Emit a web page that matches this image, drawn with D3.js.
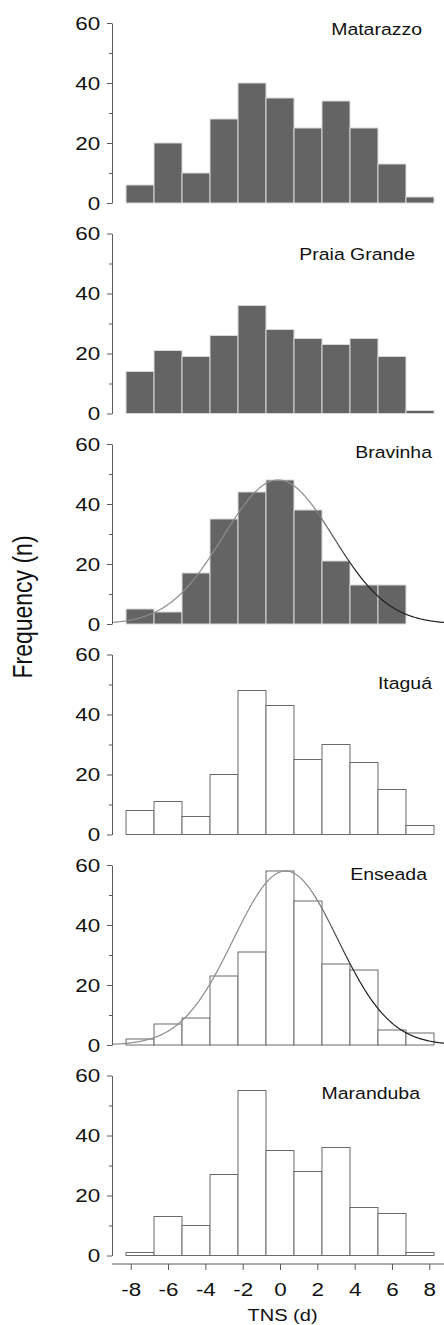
<!DOCTYPE html>
<html>
<head>
<meta charset="utf-8">
<script src="https://cdn.jsdelivr.net/npm/d3@7"></script>
<style>
  body { margin: 0; background: #fff; }
  text { font-family: "Liberation Sans", Arial, Helvetica, sans-serif; fill: #1a1a1a; }
</style>
</head>
<body>
<div id="chart"></div>
<script>
// bin centres (TNS, days), each bin 1.5 d wide
var bins = [-7.5, -6, -4.5, -3, -1.5, 0, 1.5, 3, 4.5, 6, 7.5];
var binWidth = 1.5;

var sites = ["Matarazzo", "Praia Grande", "Bravinha", "Itaguá", "Enseada", "Maranduba"];

var matarazzo   = [6, 20, 10, 28, 40, 35, 25, 34, 25, 13, 2];
var praiaGrande = [14, 21, 19, 26, 36, 28, 25, 23, 25, 19, 1];
var bravinha    = [5, 4, 17, 35, 44, 48, 38, 21, 13, 13, 0];
var itagua      = [8, 11, 6, 20, 48, 43, 25, 30, 24, 15, 3];
var enseada     = [2, 7, 9, 23, 31, 58, 48, 27, 25, 5, 4];
var maranduba   = [1, 13, 10, 27, 55, 35, 28, 36, 16, 14, 1];

var counts = [matarazzo, praiaGrande, bravinha, itagua, enseada, maranduba];

// fitted normal curves (only Bravinha and Enseada have one)
var fitMean = [null, null, -0.1, null, 0.3, null];
var fitSd   = [null, null, 2.95, null, 2.8, null];
var fitPeak = [null, null, 48, null, 58, null];

var yTicks = [0, 20, 40, 60];
var yMinor = [10, 30, 50];
var xTicks = [-8, -6, -4, -2, 0, 2, 4, 6, 8];

// layout
var width = 444, height = 1325;
var axisX = 112;
var panelTop0 = 203, panelStep = 210.5, panelH = 180;
var shaded = [true, true, true, false, false, false];
var titleRight = [422, 415, 432, 432, 427, 420];
var titleDy = [12, 26, 14, 34, 14.5, 23.5];
var stretch = 1.18; // the figure's lettering is a bit wide

var svg = d3.select("#chart").append("svg")
    .attr("width", width)
    .attr("height", height);

var grad = svg.append("defs").append("linearGradient")
    .attr("id", "curveGrad")
    .attr("gradientUnits", "userSpaceOnUse")
    .attr("x1", axisX).attr("x2", width)
    .attr("y1", 0).attr("y2", 0);
grad.append("stop").attr("offset", 0).attr("stop-color", "#8c8c8c");
grad.append("stop").attr("offset", 0.6).attr("stop-color", "#8c8c8c");
grad.append("stop").attr("offset", 0.74).attr("stop-color", "#1e1e1e");
grad.append("stop").attr("offset", 1).attr("stop-color", "#1e1e1e");

var x = d3.scaleLinear()
    .domain([-8, 8])
    .range([130.7, 429.3]);

sites.forEach(function(site, i) {
  var y0 = panelTop0 + panelStep * i;
  var y = d3.scaleLinear()
      .domain([0, 60])
      .range([y0, y0 - panelH]);

  var g = svg.append("g");

  // bars
  g.selectAll("rect")
      .data(counts[i].map(function(c, j) { return {x: bins[j], n: c}; })
                     .filter(function(d) { return d.n > 0; }))
    .enter().append("rect")
      .attr("x", function(d) { return x(d.x - binWidth / 2); })
      .attr("width", function(d) { return x(d.x + binWidth / 2) - x(d.x - binWidth / 2); })
      .attr("y", function(d) { return y(d.n); })
      .attr("height", function(d) { return y(0) - y(d.n); })
      .attr("fill", shaded[i] ? "#646464" : "#fff")
      .attr("stroke", shaded[i] ? "#d8d8d8" : "#6a6a6a")
      .attr("stroke-width", 1);

  // normal fit
  if (fitMean[i] !== null) {
    var m = fitMean[i], s = fitSd[i], p = fitPeak[i];
    var pts = d3.range(x.invert(axisX), x.invert(width) + 0.05, 0.05).map(function(v) {
      return [v, p * Math.exp(-(v - m) * (v - m) / (2 * s * s))];
    });
    g.append("path")
        .datum(pts)
        .attr("fill", "none")
        .attr("stroke", "url(#curveGrad)")
        .attr("stroke-width", 1.2)
        .attr("d", d3.line()
            .x(function(d) { return x(d[0]); })
            .y(function(d) { return y(d[1]); }));
  }

  // y axis
  var ya = g.append("g")
      .attr("transform", "translate(" + axisX + ",0)")
      .call(d3.axisLeft(y).tickValues(yTicks).tickSize(5).tickSizeOuter(0));
  g.append("g")
      .attr("transform", "translate(" + axisX + ",0)")
      .call(d3.axisLeft(y).tickValues(yMinor).tickSize(3).tickSizeOuter(0).tickFormat(""))
      .select(".domain").remove();
  g.selectAll(".domain, .tick line").attr("stroke", "#5a5a5a");
  ya.selectAll("text")
      .attr("x", -10)
      .attr("transform", "scale(" + stretch + ",1)")
      .style("font-size", "19px")
      .style("fill", "#111");

  // site name
  g.append("text")
      .attr("text-anchor", "end")
      .attr("transform", "translate(" + titleRight[i] + "," + (y(60) + titleDy[i]) + ") scale(" + stretch + ",1)")
      .style("font-size", "16.5px")
      .style("fill", "#111")
      .text(site);

  // x axis under the last panel
  if (i === sites.length - 1) {
    var axisY = y0 + 8.5;
    svg.append("line")
        .attr("x1", axisX).attr("x2", width)
        .attr("y1", axisY).attr("y2", axisY)
        .attr("stroke", "#5a5a5a");
    var xa = svg.append("g")
        .attr("transform", "translate(0," + axisY + ")")
        .call(d3.axisBottom(x).tickValues(xTicks).tickSize(6).tickSizeOuter(0)
            .tickFormat(function(d) { return String(d); }));
    xa.select(".domain").remove();
    xa.selectAll(".tick line").attr("stroke", "#5a5a5a");
    xa.selectAll(".tick text")
        .attr("y", 0)
        .attr("dy", 0)
        .attr("transform", "translate(0,32) scale(" + stretch + ",1)")
        .style("font-size", "19px")
        .style("fill", "#111");

    svg.append("text")
        .attr("text-anchor", "middle")
        .attr("transform", "translate(282.5,1321) scale(" + stretch + ",1)")
        .style("font-size", "17px")
        .style("fill", "#111")
        .text("TNS (d)");
  }
});

// shared y label
svg.append("text")
    .attr("text-anchor", "middle")
    .attr("transform", "translate(32,607) rotate(-90) scale(1," + stretch + ")")
    .style("font-size", "23px")
    .style("fill", "#111")
    .text("Frequency (n)");
</script>
</body>
</html>
